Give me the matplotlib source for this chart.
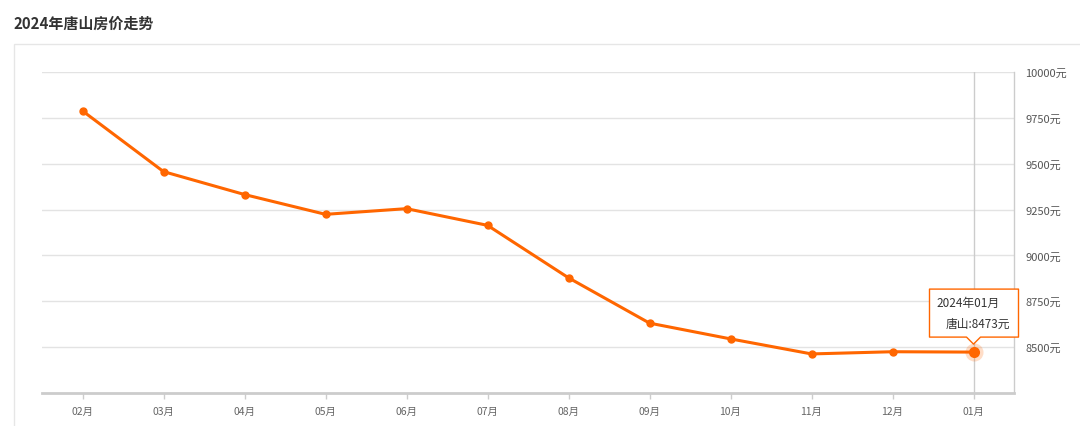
import matplotlib
matplotlib.use("Agg")
import matplotlib.pyplot as plt
import matplotlib.transforms as mtransforms
from matplotlib.patches import Polygon, Rectangle

plt.rcParams['font.family'] = ['Noto Sans CJK SC', 'DejaVu Sans']

title = "2024年唐山房价走势"
months = ["02月", "03月", "04月", "05月", "06月", "07月", "08月", "09月", "10月", "11月", "12月", "01月"]
prices = [9788, 9457, 9332, 9224, 9255, 9164, 8878, 8631, 8545, 8463, 8475, 8473]
yticks = [8500, 8750, 9000, 9250, 9500, 9750, 10000]
city = "唐山"
tip_label = "2024年01月"

W, H = 1080, 427
fig = plt.figure(figsize=(W / 100, H / 100), dpi=100)
fig.patch.set_facecolor("white")

# outer panel box
fig.patches.append(Rectangle((14 / W, -0.05), 1.2, (H - 45) / H + 0.05,
                             transform=fig.transFigure, fill=False,
                             edgecolor="#e6e6e6", linewidth=1.0, zorder=0))

fig.text(14 / W, (H - 24) / H, title, fontsize=10.8, fontweight="bold",
         color="#333333", ha="left", va="center")

ax = fig.add_axes([42 / W, (H - 394) / H, (1014 - 42) / W, (394 - 73) / H])
x = list(range(len(months)))
ax.set_xlim(-0.5, len(months) - 0.5)
ax.set_ylim(8250, 10000)

ax.set_yticks(yticks)
ax.set_yticklabels([f"{v}元" for v in yticks])
ax.yaxis.tick_right()
ax.tick_params(axis="y", length=0, pad=8, labelsize=8, labelcolor="#555555")
ax.set_xticks(x)
ax.set_xticklabels(months)
ax.tick_params(axis="x", length=4, width=1, color="#cccccc", pad=5,
               labelsize=7.5, labelcolor="#666666")

ax.grid(axis="y", color="#e3e3e3", linewidth=1)
ax.set_axisbelow(True)
for s in ["top", "left"]:
    ax.spines[s].set_visible(False)
ax.spines["right"].set_color("#cccccc")
ax.spines["right"].set_linewidth(1)
ax.spines["bottom"].set_color("#cccccc")
ax.spines["bottom"].set_linewidth(2)

orange = "#ff6600"
# crosshair
ax.axvline(x[-1], color="#cccccc", linewidth=1, zorder=1)

ax.plot(x, prices, color=orange, linewidth=2.2, marker="o", markersize=5,
        zorder=3, solid_capstyle="round")
ax.plot(x[-1], prices[-1], marker="o", markersize=13, color=orange,
        alpha=0.22, markeredgewidth=0, zorder=4)
ax.plot(x[-1], prices[-1], marker="o", markersize=8, color=orange,
        markeredgewidth=0, zorder=5)

# tooltip (pixel offsets relative to last point)
tr = mtransforms.Affine2D() + mtransforms.ScaledTranslation(x[-1], prices[-1], ax.transData)
l, r, b, t = -44, 45, 15, 63
verts = [(l, b), (-7, b), (0, 8), (7, b), (r, b), (r, t), (l, t)]
ax.add_patch(Polygon(verts, closed=True, transform=tr, facecolor="white",
                     edgecolor=orange, linewidth=1, zorder=6, clip_on=False,
                     joinstyle="round"))
ax.annotate(tip_label, xy=(x[-1], prices[-1]), xytext=(-37, 50),
            textcoords="offset pixels", ha="left", va="center",
            fontsize=8.5, color="#333333", zorder=7)
ax.annotate(f"{city}:{prices[-1]}元", xy=(x[-1], prices[-1]), xytext=(37, 29),
            textcoords="offset pixels", ha="right", va="center",
            fontsize=8.5, color="#333333", zorder=7)

fig.savefig("out.png", dpi=100)
